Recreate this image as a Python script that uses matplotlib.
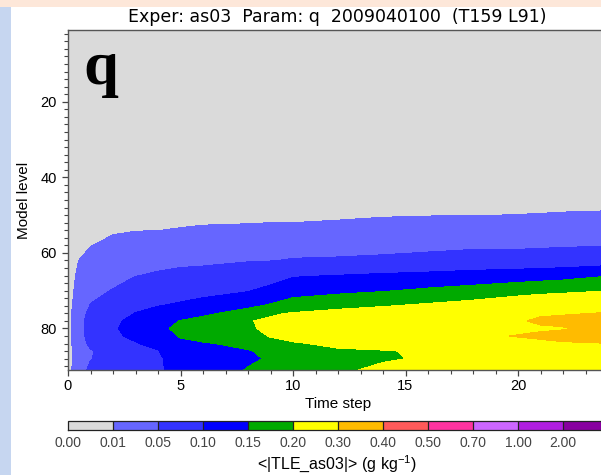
import numpy as np
import matplotlib
matplotlib.use("Agg")
import matplotlib.pyplot as plt
from matplotlib.colors import ListedColormap, BoundaryNorm
from matplotlib.cm import ScalarMappable
from matplotlib.patches import Rectangle
from matplotlib.ticker import MultipleLocator

plt.rcParams["font.family"] = ["Liberation Sans", "DejaVu Sans"]
plt.rcParams["mathtext.fontset"] = "custom"
plt.rcParams["mathtext.rm"] = "Liberation Sans"
plt.rcParams["mathtext.it"] = "Liberation Sans"

# ---------------- data ----------------
time_steps = [0, 1, 2, 3, 4, 5, 6, 8, 9, 10, 12, 14, 16, 18, 20, 21, 22, 24]
model_levels = [1, 40, 46, 50, 54, 58, 62, 66, 70, 74, 76, 78, 80, 82, 84, 86, 88, 91]

# <|TLE|> (g/kg) profiles, one per time step, values at model_levels
tle_t00 = [0, 0, 0, 0, 0, 0, 0, 0, 0, 0, 0, 0, 0, 0, 0, 0, 0, 0]
tle_t01 = [0, 0, 0, 0.000, 0.004, 0.009, 0.021, 0.030, 0.038, 0.052, 0.062, 0.068, 0.068, 0.067, 0.060, 0.046, 0.048, 0.060]
tle_t02 = [0, 0, 0, 0.002, 0.007, 0.017, 0.026, 0.037, 0.052, 0.070, 0.081, 0.093, 0.096, 0.095, 0.085, 0.075, 0.070, 0.070]
tle_t03 = [0, 0, 0, 0.004, 0.009, 0.023, 0.035, 0.049, 0.068, 0.090, 0.101, 0.110, 0.112, 0.106, 0.098, 0.088, 0.082, 0.080]
tle_t04 = [0, 0, 0.001, 0.005, 0.0098, 0.025, 0.040, 0.054, 0.075, 0.099, 0.120, 0.138, 0.140, 0.130, 0.110, 0.098, 0.092, 0.092]
tle_t05 = [0, 0, 0.001, 0.005, 0.011, 0.027, 0.042, 0.059, 0.082, 0.106, 0.135, 0.151, 0.160, 0.153, 0.142, 0.132, 0.125, 0.120]
tle_t06 = [0, 0, 0.002, 0.006, 0.012, 0.028, 0.043, 0.062, 0.087, 0.115, 0.142, 0.162, 0.180, 0.162, 0.147, 0.140, 0.135, 0.130]
tle_t08 = [0, 0, 0.003, 0.006, 0.013, 0.035, 0.048, 0.070, 0.097, 0.142, 0.167, 0.198, 0.190, 0.175, 0.158, 0.148, 0.145, 0.152]
tle_t09 = [0, 0, 0.004, 0.007, 0.013, 0.037, 0.049, 0.075, 0.115, 0.155, 0.195, 0.206, 0.215, 0.204, 0.180, 0.157, 0.153, 0.165]
tle_t10 = [0, 0, 0.004, 0.008, 0.012, 0.038, 0.052, 0.096, 0.130, 0.173, 0.203, 0.227, 0.236, 0.213, 0.196, 0.180, 0.175, 0.180]
tle_t12 = [0, 0, 0.005, 0.008, 0.014, 0.040, 0.053, 0.101, 0.139, 0.187, 0.215, 0.245, 0.255, 0.233, 0.208, 0.195, 0.190, 0.195]
tle_t14 = [0, 0, 0.006, 0.009, 0.016, 0.040, 0.056, 0.107, 0.147, 0.197, 0.226, 0.255, 0.265, 0.243, 0.220, 0.197, 0.197, 0.206]
tle_t16 = [0, 0, 0.006, 0.009, 0.025, 0.042, 0.060, 0.112, 0.158, 0.208, 0.233, 0.258, 0.272, 0.258, 0.240, 0.206, 0.203, 0.215]
tle_t18 = [0, 0, 0.006, 0.0097, 0.027, 0.044, 0.066, 0.118, 0.168, 0.219, 0.250, 0.266, 0.270, 0.284, 0.262, 0.243, 0.230, 0.225]
tle_t20 = [0, 0, 0.006, 0.0102, 0.028, 0.045, 0.064, 0.126, 0.179, 0.238, 0.275, 0.288, 0.280, 0.304, 0.275, 0.255, 0.240, 0.230]
tle_t21 = [0, 0, 0.006, 0.0105, 0.029, 0.046, 0.066, 0.130, 0.184, 0.250, 0.285, 0.318, 0.285, 0.320, 0.275, 0.258, 0.243, 0.233]
tle_t22 = [0, 0, 0.006, 0.011, 0.030, 0.047, 0.068, 0.134, 0.188, 0.258, 0.292, 0.325, 0.293, 0.330, 0.290, 0.262, 0.246, 0.236]
tle_t24 = [0, 0, 0.005, 0.012, 0.032, 0.049, 0.075, 0.148, 0.199, 0.270, 0.305, 0.330, 0.335, 0.330, 0.299, 0.270, 0.250, 0.240]

tle_profiles = [tle_t00, tle_t01, tle_t02, tle_t03, tle_t04, tle_t05, tle_t06,
                tle_t08, tle_t09, tle_t10, tle_t12, tle_t14, tle_t16, tle_t18,
                tle_t20, tle_t21, tle_t22, tle_t24]

contour_levels = [0.00, 0.01, 0.05, 0.10, 0.15, 0.20, 0.30, 0.40, 0.50, 0.70, 1.00, 2.00, 5.00]
level_labels = ["0.00", "0.01", "0.05", "0.10", "0.15", "0.20", "0.30",
                "0.40", "0.50", "0.70", "1.00", "2.00"]
level_colors = ["#dadada", "#6666ff", "#3333ff", "#0000ff", "#00aa00", "#ffff00",
                "#ffbb00", "#ff5a5a", "#ff33a0", "#cc66ff", "#b01ee0", "#8800a0"]

title = "Exper: as03  Param: q  2009040100  (T159 L91)"
# --------------------------------------

W, H = 601, 475
fig = plt.figure(figsize=(W / 100, H / 100), dpi=100)
fig.patch.set_facecolor("white")
# page decorations
fig.patches.append(Rectangle((0, 1 - 7 / H), 1, 7 / H, transform=fig.transFigure,
                             facecolor="#fde7d9", edgecolor="none", zorder=0))
fig.patches.append(Rectangle((0, 0), 11 / W, 1 - 7 / H, transform=fig.transFigure,
                             facecolor="#c6d6f0", edgecolor="none", zorder=0))

ax = fig.add_axes([68 / W, 1 - 370 / H, 540 / W, 340 / H])
ax.set_facecolor(level_colors[0])

T, L = np.meshgrid(np.array(time_steps, float), np.array(model_levels, float))
Z = np.array(tle_profiles, float).T
ax.contourf(T, L, Z, levels=contour_levels, colors=level_colors, antialiased=False)

ax.set_xlim(0, 24)
ax.set_ylim(91, 1)
ax.xaxis.set_major_locator(MultipleLocator(5))
ax.xaxis.set_minor_locator(MultipleLocator(1))
ax.yaxis.set_major_locator(MultipleLocator(20))
ax.yaxis.set_minor_locator(MultipleLocator(2))
ax.tick_params(which="major", direction="out", length=4.3, width=0.9, color="#444444",
               labelsize=10.5)
ax.tick_params(which="minor", direction="out", length=3.0, width=0.8, color="#444444")
ax.tick_params(axis="y", which="major", pad=3.6)
ax.tick_params(axis="x", which="major", pad=2.5)
for s in ax.spines.values():
    s.set_color("#555555")
    s.set_linewidth(1.0)

ax.set_xlabel("Time step", fontsize=11, labelpad=2.5)
ax.set_ylabel("Model level", fontsize=11, labelpad=7)

ax.text(0.028, 0.841, "q", transform=ax.transAxes, fontsize=45,
        fontweight="bold", family="Liberation Serif", va="baseline", ha="left")

fig.text(337 / W, 1 - 17 / H, title, ha="center", va="center", fontsize=12.5,
         family=["DejaVu Sans"])

# colour bar
cax = fig.add_axes([68 / W, 1 - 430 / H, 540 / W, 9 / H])
sm = ScalarMappable(norm=BoundaryNorm(contour_levels, len(level_colors)),
                    cmap=ListedColormap(level_colors))
cb = fig.colorbar(sm, cax=cax, orientation="horizontal", spacing="uniform",
                  drawedges=True, ticks=contour_levels[:-1])
cb.ax.set_xticklabels(level_labels)
cb.ax.tick_params(length=0, labelsize=10, pad=4.5, labelcolor="#444444")
cb.outline.set_edgecolor("#222222")
cb.outline.set_linewidth(0.9)
cb.dividers.set_color("#222222")
cb.dividers.set_linewidth(0.9)

fig.text(337 / W, 1 - 464 / H, r"<|TLE_as03|> (g kg$^{-1}$)", ha="center",
         va="center", fontsize=11.5)

fig.savefig("out.png", dpi=100)
